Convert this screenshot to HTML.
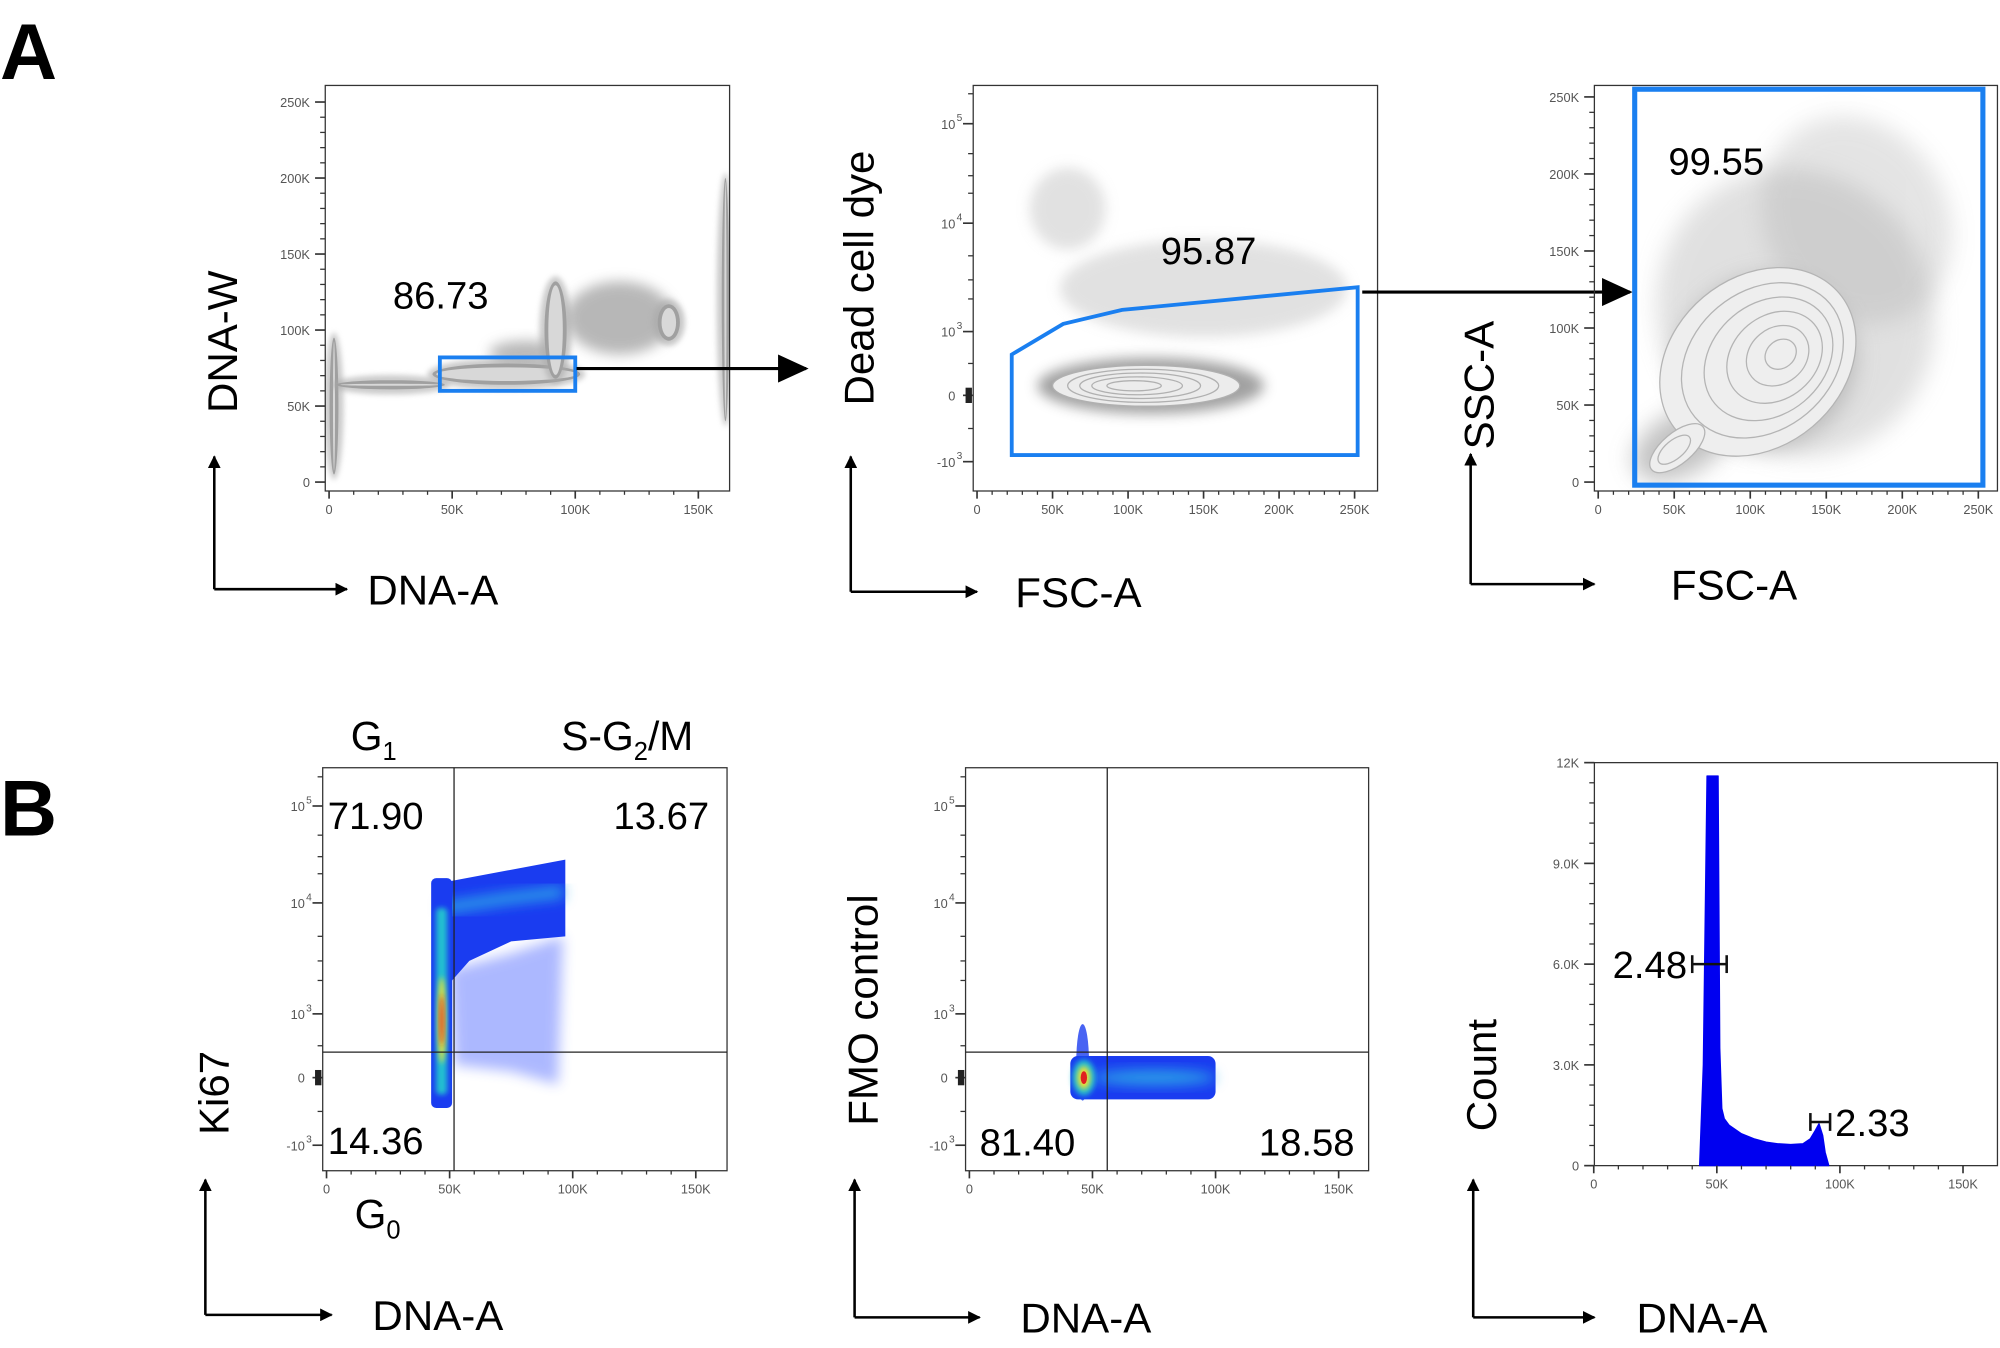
<!DOCTYPE html>
<html><head><meta charset="utf-8"><style>
html,body{margin:0;padding:0;background:#fff;}
svg{display:block;font-family:"Liberation Sans",sans-serif;}
</style></head><body>
<svg id="fig" width="2000" height="1348" viewBox="0 0 1568 1057" preserveAspectRatio="none" xmlns="http://www.w3.org/2000/svg">
<defs>
<filter id="b2" x="-50%" y="-50%" width="200%" height="200%"><feGaussianBlur stdDeviation="2"/></filter>
<filter id="b5" x="-50%" y="-50%" width="200%" height="200%"><feGaussianBlur stdDeviation="5"/></filter>
<filter id="b9" x="-50%" y="-50%" width="200%" height="200%"><feGaussianBlur stdDeviation="9"/></filter>
<marker id="ah" markerWidth="10" markerHeight="10" refX="9" refY="5" orient="auto" markerUnits="userSpaceOnUse"><path d="M0,0 L10,5 L0,10 z" fill="#000"/></marker>
<marker id="ah2" markerWidth="24" markerHeight="22" refX="22" refY="11" orient="auto" markerUnits="userSpaceOnUse"><path d="M0,0 L24,11 L0,22 z" fill="#000"/></marker>
</defs>
<text x="0" y="62" font-size="62" font-weight="bold">A</text>
<text x="0" y="655" font-size="62" font-weight="bold">B</text>
<g id="root"></g>
</svg>
<script>
// ---------- data ----------
const linTicks250 = [0, 50000, 100000, 150000, 200000, 250000];
const linTickLabels250 = ["0", "50K", "100K", "150K", "200K", "250K"];
const linTicks150 = [0, 50000, 100000, 150000];
const linTickLabels150 = ["0", "50K", "100K", "150K"];
const logTicks = [-1000, 0, 1000, 10000, 100000];
const logTickLabels = [["-10","3"], ["0",""], ["10","3"], ["10","4"], ["10","5"]];
const histTicks = [0, 3000, 6000, 9000, 12000];
const histTickLabels = ["0", "3.0K", "6.0K", "9.0K", "12K"];

// panel A1 gray clusters [x, y, rx, ry] (data units)
const a1Clusters = [[72000, 71000, 30000, 7000], [92000, 100000, 4500, 32000], [138000, 105000, 4500, 12000], [2000, 50000, 1800, 45000], [25000, 64000, 22000, 3000], [161000, 120000, 1500, 80000]];
const a1Clouds = [[118000, 108000, 22000, 24000], [80000, 85000, 15000, 8000]];
const a1Gate = [45000, 100000, 60000, 82000];
// panel A2
const a2Clusters = [[115000, 150, 75000, 180], [60000, 14000, 25000, 9000], [150000, 2500, 95000, 1800]];
const a2Gate = [[23000, -900], [23000, 640], [57000, 1176], [96000, 1585], [252000, 2570], [252000, -900]];
// panel A3
const a3Clusters = [[130000, 110000, 90000, 95000], [110000, 78000, 60000, 55000], [55000, 25000, 35000, 20000], [170000, 170000, 60000, 70000]];
const a3Contours = [[105000, 78000, 70000, 55000], [108000, 79000, 58000, 45000], [112000, 80000, 46000, 36000], [116000, 81000, 34000, 27000], [118000, 82000, 22000, 18000], [120000, 83000, 11000, 9000], [52000, 22000, 22000, 10000], [50000, 21000, 13000, 6000]];
const a3Gate = [24000, -2000, 253000, 255000];
// panel B1 density band [x, y]
const b1Band = [[47000, 9000], [72000, 11000], [96000, 13000]];
const b1Quad = [51800, 400];
const b1Values = ["71.90", "13.67", "14.36"];
// panel B2
const b2Quad = [56000, 400];
const b2Values = ["81.40", "18.58"];
// histogram
const histX = [43000, 44500, 46000, 50500, 51200, 52000, 53000, 55000, 60000, 65000, 70000, 75000, 80000, 85000, 88000, 90000, 91500, 93000, 94000, 95500];
const histY = [0, 3000, 11600, 11600, 3500, 1700, 1400, 1200, 950, 800, 700, 650, 630, 650, 800, 1050, 1250, 900, 400, 0];
const histGates = [[2.48, 40000, 54000, 6000], [2.33, 88000, 96000, 1300]];

// ---------- helpers ----------
const NS = "http://www.w3.org/2000/svg";
const root = document.getElementById("root");
function mk(tag, attrs, parent) {
  const e = document.createElementNS(NS, tag);
  for (const k in attrs) e.setAttribute(k, attrs[k]);
  (parent || root).appendChild(e);
  return e;
}
function linScale(v0, p0, v1, p1) { return v => p0 + (v - v0) * (p1 - p0) / (v1 - v0); }
function logScale(pm, p0, p3, p4, p5) {
  return v => {
    if (v <= 0) return p0 + (-v / 1000) * (pm - p0);
    if (v <= 1000) return p0 + v / 1000 * (p3 - p0);
    const l = Math.log10(v);
    if (l <= 4) return p3 + (l - 3) * (p4 - p3);
    return p4 + (l - 4) * (p5 - p4);
  };
}
function frame(g, x0, y0, x1, y1) {
  const r = mk("rect", {x: x0, y: y0, width: x1 - x0, height: y1 - y0, fill: "none", stroke: "#333", "stroke-width": 1});
  
  
  g.appendChild(r);
}
function xTicks(g, sx, ticks, labels, yb) {
  ticks.forEach((t, i) => {
    const x = sx(t);
    mk("line", {x1: x, y1: yb, x2: x, y2: yb + 6, stroke: "#333", "stroke-width": 1.3}, g);
    const tx = mk("text", {x: x, y: yb + 18, "font-size": 10, fill: "#555", "text-anchor": "middle"}, g);
    tx.textContent = labels[i];
    
    
  });
  for (let i = 0; i < ticks.length - 1; i++) for (let k = 1; k < 5; k++) {
    const x = sx(ticks[i] + (ticks[i + 1] - ticks[i]) * k / 5);
    mk("line", {x1: x, y1: yb, x2: x, y2: yb + 3, stroke: "#333", "stroke-width": 1}, g);
  }
}
function yTicks(g, sy, ticks, labels, xl) {
  ticks.forEach((t, i) => {
    const y = sy(t);
    mk("line", {x1: xl - 8, y1: y, x2: xl, y2: y, stroke: "#333", "stroke-width": 1.3}, g);
    const tx = mk("text", {x: xl - 12, y: y + 4, "font-size": 10, fill: "#555", "text-anchor": "end"}, g);
    tx.textContent = labels[i];
    
    
  });
  for (let i = 0; i < ticks.length - 1; i++) for (let k = 1; k < 5; k++) {
    const y = sy(ticks[i] + (ticks[i + 1] - ticks[i]) * k / 5);
    mk("line", {x1: xl - 4, y1: y, x2: xl, y2: y, stroke: "#333", "stroke-width": 1}, g);
  }
}
function yLogTicks(g, sy, xl) {
  logTicks.forEach((t, i) => {
    const y = sy(t);
    mk("line", {x1: xl - 8, y1: y, x2: xl, y2: y, stroke: "#333", "stroke-width": 1.3}, g);
    const tx = mk("text", {x: xl - 14, y: y + 4, "font-size": 10, fill: "#555", "text-anchor": "end"}, g);
    tx.textContent = logTickLabels[i][0];
    
    
    if (logTickLabels[i][1]) {
      const sp = mk("text", {x: xl - 13, y: y - 2, "font-size": 8, fill: "#555"}, g);
      sp.textContent = logTickLabels[i][1];
    }
  });
  [-500, 500, 2000, 3000, 5000, 20000, 30000, 50000, 200000].forEach(v => {
    const y = sy(v);
    if (y > 605) mk("line", {x1: xl - 4, y1: y, x2: xl, y2: y, stroke: "#333", "stroke-width": 1}, g);
    else if (y > 68 && y < 390) mk("line", {x1: xl - 4, y1: y, x2: xl, y2: y, stroke: "#333", "stroke-width": 1}, g);
  });
  mk("rect", {x: xl - 6, y: sy(0) - 6, width: 5, height: 12, fill: "#222"}, g);
}
function axisArrows(g, x, yTop, yBot, xRight, xlab, ylab, ylabY, xlabX) {
  mk("line", {x1: x, y1: yBot, x2: x, y2: yTop, stroke: "#000", "stroke-width": 2, "marker-end": "url(#ah)"}, g);
  mk("line", {x1: x, y1: yBot, x2: xRight, y2: yBot, stroke: "#000", "stroke-width": 2, "marker-end": "url(#ah)"}, g);
  const xt = mk("text", {x: xlabX, y: yBot + 12, "font-size": 33}, g);
  xt.textContent = xlab;
  
  
  const yt = mk("text", {x: 0, y: 0, "font-size": 33, "text-anchor": "middle", transform: `translate(${x + 18},${ylabY}) rotate(-90)`}, g);
  yt.textContent = ylab;
  
  
}
function label(g, x, y, txt, size, name, anchor) {
  const t = mk("text", {x: x, y: y, "font-size": size, "text-anchor": anchor || "start"}, g);
  t.textContent = txt;
  
  
  return t;
}
function clip(id, x0, y0, x1, y1) {
  const d = document.querySelector("defs");
  const c = document.createElementNS(NS, "clipPath");
  c.setAttribute("id", id);
  d.appendChild(c);
  mk("rect", {x: x0, y: y0, width: x1 - x0, height: y1 - y0}, c);
}

// ---------- Panel A1 ----------
(function () {
  const g = mk("g", {});
  
  
  const sx = linScale(0, 258, 50000, 354.5), sy = linScale(0, 378, 50000, 318.4);
  clip("c1", 255, 67, 572, 385);
  const d = mk("g", {"clip-path": "url(#c1)"}, g);
  a1Clouds.forEach(c => {
    const cx = sx(c[0]), cy = sy(c[1]), rx = sx(c[0] + c[2]) - cx, ry = cy - sy(c[1] + c[3]);
    mk("ellipse", {cx, cy, rx, ry, fill: "#a0a0a0", opacity: 0.75, filter: "url(#b5)"}, d);
  });
  a1Clusters.forEach(c => {
    const cx = sx(c[0]), cy = sy(c[1]), rx = sx(c[0] + c[2]) - cx, ry = cy - sy(c[1] + c[3]);
    mk("ellipse", {cx, cy, rx: rx + 4, ry: ry + 4, fill: "#a8a8a8", opacity: 0.6, filter: "url(#b2)"}, d);
    mk("ellipse", {cx, cy, rx, ry, fill: "#a0a0a0"}, d);
    mk("ellipse", {cx, cy, rx: Math.max(rx - 3, 0.8), ry: Math.max(ry - 3, 0.8), fill: "#d8d8d8"}, d);
  });
  frame(g, 255, 67, 572, 385);
  xTicks(g, sx, linTicks150, linTickLabels150, 385);
  yTicks(g, sy, linTicks250, linTickLabels250, 255);
  const gx0 = sx(a1Gate[0]), gx1 = sx(a1Gate[1]), gy0 = sy(a1Gate[3]), gy1 = sy(a1Gate[2]);
  const gate = mk("rect", {x: gx0, y: gy0, width: gx1 - gx0, height: gy1 - gy0, fill: "none", stroke: "#1a7ff0", "stroke-width": 3}, g);
  
  
  label(g, 308, 242, "86.73", 30, "gate-percentage");
  mk("line", {x1: 452, y1: 289, x2: 632, y2: 289, stroke: "#000", "stroke-width": 2.5, "marker-end": "url(#ah2)"}, g);
  axisArrows(g, 168, 358, 462, 272, "DNA-A", "DNA-W", 268, 288);
})();

// ---------- Panel A2 ----------
(function () {
  const g = mk("g", {});
  
  
  const sx = linScale(0, 766, 50000, 825.2), sy = logScale(362, 310, 260, 175, 97);
  clip("c2", 763, 67, 1080, 385);
  const d = mk("g", {"clip-path": "url(#c2)"}, g);
  a2Clusters.forEach((c, i) => {
    const cx = sx(c[0]), cy = sy(c[1]), rx = sx(c[0] + c[2]) - cx;
    const ry = i === 0 ? 22 : (i === 1 ? 32 : 38);
    mk("ellipse", {cx, cy, rx, ry, fill: i === 0 ? "#9c9c9c" : "#c4c4c4", opacity: i === 0 ? 0.95 : 0.5, filter: "url(#b5)"}, d);
  });
  [[112000, 62000, 16], [110000, 50000, 13], [108000, 40000, 10], [106000, 30000, 7], [104000, 18000, 4]].forEach((c, i) => {
    const cx = sx(c[0]), rx = sx(c[0] + c[1]) - cx;
    mk("ellipse", {cx, cy: sy(150), rx, ry: c[2], fill: i === 0 ? "#ececec" : "none", stroke: "#b0b0b0", "stroke-width": 1}, d);
  });
  frame(g, 763, 67, 1080, 385);
  xTicks(g, sx, linTicks250, linTickLabels250, 385);
  yLogTicks(g, sy, 763);
  const pts = a2Gate.map(p => sx(p[0]).toFixed(1) + "," + sy(p[1]).toFixed(1)).join(" ");
  const gate = mk("polygon", {points: pts, fill: "none", stroke: "#1a7ff0", "stroke-width": 3}, g);
  
  
  label(g, 910, 207, "95.87", 30, "gate-percentage");
  mk("line", {x1: 1068, y1: 229, x2: 1278, y2: 229, stroke: "#000", "stroke-width": 2.5, "marker-end": "url(#ah2)"}, g);
  axisArrows(g, 667, 358, 464, 766, "FSC-A", "Dead cell dye", 218, 796);
})();

// ---------- Panel A3 ----------
(function () {
  const g = mk("g", {});
  
  
  const sx = linScale(0, 1253, 50000, 1312.6), sy = linScale(0, 378, 50000, 317.6);
  clip("c3", 1250, 67, 1566, 385);
  const d = mk("g", {"clip-path": "url(#c3)"}, g);
  a3Clusters.forEach((c, i) => {
    const cx = sx(c[0]), cy = sy(c[1]), rx = sx(c[0] + c[2]) - cx, ry = cy - sy(c[1] + c[3]);
    mk("ellipse", {cx, cy, rx, ry, fill: "#a8a8a8", opacity: i === 0 ? 0.35 : (i === 3 ? 0.3 : 0.7), filter: "url(#b9)", transform: `rotate(-30 ${cx} ${cy})`}, d);
  });
  a3Contours.forEach((c, i) => {
    const cx = sx(c[0]), cy = sy(c[1]), rx = sx(c[0] + c[2]) - cx, ry = cy - sy(c[1] + c[3]);
    mk("ellipse", {cx, cy, rx, ry, fill: i === 0 || i === 6 ? "#eeeeee" : "none", stroke: "#b4b4b4", "stroke-width": 1, transform: `rotate(-40 ${cx} ${cy})`}, d);
  });
  frame(g, 1250, 67, 1566, 385);
  xTicks(g, sx, linTicks250, linTickLabels250, 385);
  yTicks(g, sy, linTicks250, linTickLabels250, 1250);
  const gx0 = sx(a3Gate[0]), gx1 = sx(a3Gate[2]), gy0 = sy(a3Gate[3]), gy1 = sy(a3Gate[1]);
  const gate = mk("rect", {x: gx0, y: gy0, width: gx1 - gx0, height: gy1 - gy0, fill: "none", stroke: "#1a7ff0", "stroke-width": 4}, g);
  
  
  label(g, 1308, 137, "99.55", 30, "gate-percentage");
  axisArrows(g, 1153, 356, 458, 1250, "FSC-A", "SSC-A", 302, 1310);
})();

// ---------- Panel B1 ----------
(function () {
  const g = mk("g", {});
  
  
  const sx = linScale(0, 256, 50000, 352.5), sy = logScale(898, 845, 795, 708, 632);
  clip("c4", 253, 602, 570, 918);
  const d = mk("g", {"clip-path": "url(#c4)"}, g);
  // sparse fan
  mk("polygon", {points: `${sx(50000)},${sy(2500)} ${sx(75000)},${sy(3500)} ${sx(96000)},${sy(5000)} ${sx(94000)},${sy(-100)} ${sx(75000)},${sy(100)} ${sx(52000)},${sy(200)}`, fill: "#3050ff", opacity: 0.4, filter: "url(#b5)"}, d);
  // band
  const bp = b1Band.map(p => [sx(p[0]), sy(p[1])]);
  mk("polygon", {points: `${sx(46000)},${sy(16000)} ${sx(97000)},${sy(28000)} ${sx(97000)},${sy(5000)} ${sx(75000)},${sy(4500)} ${sx(58000)},${sy(3000)} ${sx(46000)},${sy(1500)}`, fill: "#1a3cf0"}, d);
  mk("polyline", {points: bp.map(p => p.join(",")).join(" "), fill: "none", stroke: "#2a9ee8", "stroke-width": 9, filter: "url(#b5)"}, d);
  // vertical streak
  mk("rect", {x: sx(42500), y: sy(18000), width: sx(51000) - sx(42500), height: sy(-450) - sy(18000), rx: 4, fill: "#1a3cf0"}, d);
  mk("rect", {x: sx(44500), y: sy(9000), width: sx(49000) - sx(44500), height: sy(-250) - sy(9000), rx: 3, fill: "#20c0d0", filter: "url(#b2)"}, d);
  mk("ellipse", {cx: sx(46800), cy: sy(900), rx: 3, ry: 34, fill: "#f0e030", filter: "url(#b2)"}, d);
  mk("ellipse", {cx: sx(46800), cy: sy(900), rx: 1.5, ry: 20, fill: "#e02020", filter: "url(#b2)"}, d);
  frame(g, 253, 602, 570, 918);
  xTicks(g, sx, linTicks150, linTickLabels150, 918);
  yLogTicks(g, sy, 253);
  const qx = sx(b1Quad[0]), qy = sy(b1Quad[1]);
  mk("line", {x1: qx, y1: 602, x2: qx, y2: 918, stroke: "#222", "stroke-width": 1}, g);
  mk("line", {x1: 253, y1: qy, x2: 570, y2: qy, stroke: "#222", "stroke-width": 1}, g);
  label(g, 257, 650, b1Values[0], 30, "quadrant-percentage");
  label(g, 556, 650, b1Values[1], 30, "quadrant-percentage", "end");
  label(g, 257, 905, b1Values[2], 30, "quadrant-percentage");
  const g1 = label(g, 275, 588, "G", 32, "g1-label"); const s1 = mk("tspan", {"font-size": 20, dy: 8}, g1); s1.textContent = "1";
  const sg = label(g, 440, 588, "S-G", 32, "s-g2-m-label"); const s2 = mk("tspan", {"font-size": 20, dy: 8}, sg); s2.textContent = "2"; const s3 = mk("tspan", {dy: -8}, sg); s3.textContent = "/M";
  const g0 = label(g, 278, 963, "G", 32, "g0-label"); const s0 = mk("tspan", {"font-size": 20, dy: 8}, g0); s0.textContent = "0";
  axisArrows(g, 161, 925, 1031, 260, "DNA-A", "Ki67", 857, 292);
})();

// ---------- Panel B2 ----------
(function () {
  const g = mk("g", {});
  
  
  const sx = linScale(0, 760, 50000, 856.5), sy = logScale(898, 845, 795, 708, 632);
  clip("c5", 757, 602, 1073, 918);
  const d = mk("g", {"clip-path": "url(#c5)"}, g);
  const y0 = sy(0);
  mk("ellipse", {cx: sx(46000), cy: y0 - 12, rx: 5, ry: 30, fill: "#1a3cf0", opacity: 0.8}, d);
  mk("rect", {x: sx(41000), y: y0 - 17, width: sx(100000) - sx(41000), height: 34, rx: 6, fill: "#1a3cf0"}, d);
  mk("ellipse", {cx: sx(75000), cy: y0, rx: sx(100000) - sx(75000), ry: 6, fill: "#2a9ee8", filter: "url(#b5)"}, d);
  mk("ellipse", {cx: sx(46500), cy: y0, rx: 9, ry: 14, fill: "#20c0d0", filter: "url(#b2)"}, d);
  mk("ellipse", {cx: sx(46500), cy: y0, rx: 5, ry: 9, fill: "#f0e030", filter: "url(#b2)"}, d);
  mk("ellipse", {cx: sx(46500), cy: y0, rx: 2.5, ry: 5, fill: "#e02020"}, d);
  frame(g, 757, 602, 1073, 918);
  xTicks(g, sx, linTicks150, linTickLabels150, 918);
  yLogTicks(g, sy, 757);
  const qx = sx(b2Quad[0]), qy = sy(b2Quad[1]);
  mk("line", {x1: qx, y1: 602, x2: qx, y2: 918, stroke: "#222", "stroke-width": 1}, g);
  mk("line", {x1: 757, y1: qy, x2: 1073, y2: qy, stroke: "#222", "stroke-width": 1}, g);
  label(g, 768, 906, b2Values[0], 30, "quadrant-percentage");
  label(g, 1062, 906, b2Values[1], 30, "quadrant-percentage", "end");
  axisArrows(g, 670, 925, 1033, 768, "DNA-A", "FMO control", 792, 800);
})();

// ---------- Panel B3 histogram ----------
(function () {
  const g = mk("g", {});
  
  
  const sx = linScale(0, 1249.5, 50000, 1346), sy = linScale(0, 914, 6000, 756);
  frame(g, 1250, 598, 1566, 914);
  let dstr = `M${sx(histX[0])},${sy(0)}`;
  histX.forEach((x, i) => { dstr += ` L${sx(x).toFixed(1)},${sy(histY[i]).toFixed(1)}`; });
  dstr += ` L${sx(histX[histX.length - 1])},${sy(0)} Z`;
  const p = mk("path", {d: dstr, fill: "#0000f0", stroke: "#0000f0", "stroke-width": 1, "stroke-linejoin": "round"}, g);
  
  
  xTicks(g, sx, linTicks150, linTickLabels150, 914);
  yTicks(g, sy, histTicks, histTickLabels, 1250);
  histGates.forEach((h, i) => {
    const x0 = sx(h[1]), x1 = sx(h[2]), y = sy(h[3]);
    const gg = mk("g", {}, g);
    
    
    mk("line", {x1: x0, y1: y, x2: x1, y2: y, stroke: "#111", "stroke-width": 2}, gg);
    mk("line", {x1: x0, y1: y - 7, x2: x0, y2: y + 7, stroke: "#111", "stroke-width": 2}, gg);
    mk("line", {x1: x1, y1: y - 7, x2: x1, y2: y + 7, stroke: "#111", "stroke-width": 2}, gg);
    if (i === 0) label(g, x0 - 4, y + 11, h[0].toFixed(2), 30, "gate-percentage", "end");
    else label(g, x1 + 4, y + 11, h[0].toFixed(2), 30, "gate-percentage");
  });
  axisArrows(g, 1155, 925, 1033, 1250, "DNA-A", "Count", 843, 1283);
})();
</script>
</body></html>
